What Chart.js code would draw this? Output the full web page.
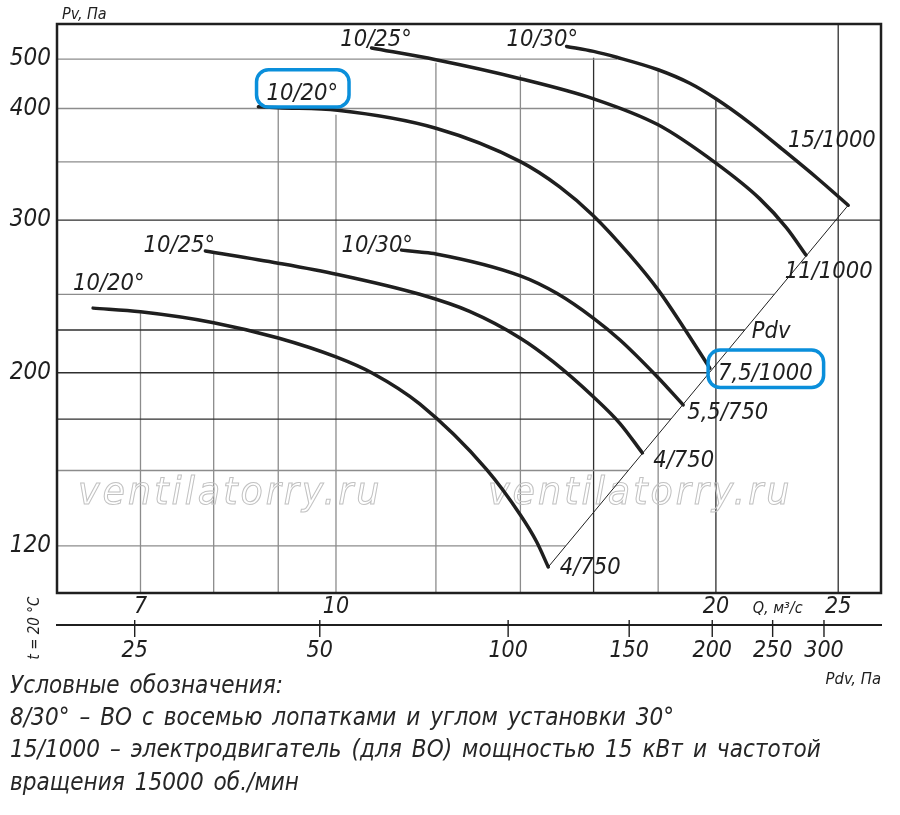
<!DOCTYPE html>
<html lang="ru">
<head>
<meta charset="utf-8">
<title>Аэродинамические характеристики вентилятора</title>
<script src="https://cdn.jsdelivr.net/npm/chart.js@4.4.1/dist/chart.umd.min.js"></script>
<style>
  html, body { margin: 0; padding: 0; background: #fff; }
  #wrap { position: relative; width: 900px; height: 815px; overflow: hidden; }
  #chart { position: absolute; left: 0; top: 0; }
  #legend {
    position: absolute; left: 10px; top: 669px; margin: 0;
    font: italic 24px/32.2px "DejaVu Sans Condensed", "DejaVu Sans", sans-serif;
    color: #262626; letter-spacing: 0.05px; word-spacing: 3px; white-space: nowrap;
  }
</style>
</head>
<body>
<div id="wrap">
  <canvas id="chart" width="900" height="815"></canvas>
  <div id="legend">
    <div>Условные обозначения:</div>
    <div>8/30° – ВО с восемью лопатками и углом установки 30°</div>
    <div>15/1000 – электродвигатель (для ВО) мощностью 15 кВт и частотой</div>
    <div>вращения 15000 об./мин</div>
  </div>
</div>
<script>
/* ---------------------------------------------------------------------------
    DATA  (Q, м³/с  and  Pv, Па)
--------------------------------------------------------------------------- */

// 750 rpm group
const q750_20 = [6.42, 7, 8, 9, 10, 10.69, 11.65, 13.16, 14, 14.42, 14.73];
const p750_20 = [240, 237.4, 229.9, 220.1, 208.9, 199.7, 182.8, 150.5, 131.5, 121.5, 112.7];

const q750_25 = [7.88, 9, 10.03, 11.65, 12.76, 14, 14.86, 16, 16.79, 17.49];
const p750_25 = [278.1, 269.9, 262.5, 250, 237.7, 220, 206.2, 186.5, 172.7, 158.1];

const q750_30 = [11.27, 11.65, 12, 14, 14.96, 16, 16.79, 17.97, 18.84];
const p750_30 = [278.7, 277.4, 276.1, 261.6, 250.6, 232.9, 218.9, 197.7, 182.3];

// 1000 rpm group
const q1000_20 = [8.68, 9, 10.03, 12, 14, 15.04, 16, 17.09, 18, 18.84, 19.78];
const p1000_20 = [403.1, 401.3, 398.2, 380.7, 350.2, 327.6, 303.4, 275.4, 252.7, 227.2, 202.5];

const q1000_25 = [10.67, 12, 14, 16, 18, 20, 21.67, 22.75, 23.57];
const p1000_25 = [525.6, 498.4, 457.6, 417.9, 384, 348.8, 317.4, 294.4, 275.4];

const q1000_30 = [15.23, 16, 16.69, 18, 19.07, 20, 21.27, 22.61, 24.04, 25.46];
const p1000_30 = [529.4, 517.6, 504, 476.4, 448.2, 417.9, 385.9, 360.6, 335.6, 312.1];

// Pdv line through the curve ends
const qPdvLine = [14.73, 25.46];
const pPdvLine = [112.7, 312.1];

// axis ticks
const qTickLabels = [7, 10, 20, 25];
const qGridValues = [7, 8, 9, 10, 12, 14, 16, 18, 20, 25];
const pvTickLabels = [120, 200, 300, 400, 500];
const pvGridValues = [120, 150, 175, 200, 225, 250, 300, 350, 400, 500];
const pdvTickLabels = [25, 50, 100, 150, 200, 250, 300];

/* ---------------------------------------------------------------------------
    AXIS CALIBRATION (the printed Pv and Pdv scales are not evenly logarithmic)
--------------------------------------------------------------------------- */

const pvMarks = [104.3, 120, 150, 175, 200, 225, 250, 300, 350, 400, 500, 586];
const pvMarkFractions = [0, 0.0827, 0.2153, 0.3056, 0.3871, 0.4622, 0.525, 0.6552, 0.7577, 0.8515, 0.9384, 1];

const pdvMarks = [18.7, 25, 50, 100, 150, 200, 250, 300, 367];
const pdvMarkFractions = [0, 0.0943, 0.3189, 0.5475, 0.6944, 0.7952, 0.8685, 0.9308, 1];

const stretchedLog = (values, fractions) => {
  const logs = values.map(Math.log10);
  return {
    min: values[0],
    max: values[values.length - 1],
    toFrac(v) {
      const lv = Math.log10(v);
      let i = 1;
      while (i < logs.length - 1 && lv > logs[i]) i++;
      const t = (lv - logs[i - 1]) / (logs[i] - logs[i - 1]);
      return fractions[i - 1] + t * (fractions[i] - fractions[i - 1]);
    },
    fromFrac(f) {
      let i = 1;
      while (i < fractions.length - 1 && f > fractions[i]) i++;
      const t = (f - fractions[i - 1]) / (fractions[i] - fractions[i - 1]);
      return Math.pow(10, logs[i - 1] + t * (logs[i] - logs[i - 1]));
    }
  };
};

const AXIS_CALIBRATION = {
  y: stretchedLog(pvMarks, pvMarkFractions),
  x2: stretchedLog(pdvMarks, pdvMarkFractions)
};

class StretchedLogScale extends Chart.LinearScale {
  static id = 'stretchedLog';
  static defaults = {};
  determineDataLimits() {
    const cal = AXIS_CALIBRATION[this.id];
    this.min = cal.min;
    this.max = cal.max;
  }
  buildTicks() { return []; }
  getPixelForValue(value) {
    return this.getPixelForDecimal(AXIS_CALIBRATION[this.id].toFrac(value));
  }
  getValueForPixel(pixel) {
    return AXIS_CALIBRATION[this.id].fromFrac(this.getDecimalForPixel(pixel));
  }
}
Chart.register(StretchedLogScale);

/* ---------------------------------------------------------------------------
    STYLE
--------------------------------------------------------------------------- */

const INK = '#1f1f1f';
const GRID_DARK = '#2e2e2e';
const GRID_LIGHT = '#8c8c8c';
const BOX_BLUE = '#0a8fdb';
const FAMILY = '"DejaVu Sans Condensed", "DejaVu Sans", sans-serif';
const tickFont = (size) => ({ family: FAMILY, size, style: 'italic', weight: 'normal' });

// partial grid lines, as printed: vertical lines end at a Pv value, horizontal ones at a Q value
const verticalGrid = qGridValues.map((q, i) => ({
  q,
  topP: [237.4, 277.2, 400, 393.7, 491.7, 465.8, 503, 480, 419, null][i],
  dark: [16, 20, 25].includes(q)
}));
const horizontalGrid = pvGridValues.map((p) => ({
  p,
  toPdv: p < 300,
  endQ: { 500: 16.7, 400: 20.45, 350: 23.21 }[p] || null,
  dark: [300, 225, 200, 175].includes(p)
}));

const curveLabels = [
  { text: '10/25°', q: 10.08, p: 530 },
  { text: '10/30°', q: 13.65, p: 530 },
  { text: '10/20°', q: 8.81, p: 416.1, boxed: true },
  { text: '15/1000', q: 22.81, p: 363.7 },
  { text: '11/1000', q: 22.68, p: 260 },
  { text: 'Pdv', q: 21.35, p: 220 },
  { text: '7,5/1000', q: 20.08, p: 195.8, boxed: true },
  { text: '5,5/750', q: 18.98, p: 175 },
  { text: '4/750', q: 17.84, p: 151.6 },
  { text: '4/750', q: 15.04, p: 110.5 },
  { text: '10/25°', q: 7.04, p: 277.6 },
  { text: '10/30°', q: 10.1, p: 277.6 },
  { text: '10/20°', q: 6.19, p: 252.7 }
];

/* ---------------------------------------------------------------------------
    PLUGINS
--------------------------------------------------------------------------- */

const gridPlugin = {
  id: 'partialGrid',
  beforeDatasetsDraw(chart) {
    const { ctx, chartArea, scales: { x, y } } = chart;
    const pdvMeta = chart.getDatasetMeta(chart.data.datasets.length - 1);
    const [a, b] = pdvMeta.data;
    const pdvXAt = (py) => a.x + (py - a.y) * (b.x - a.x) / (b.y - a.y);

    ctx.save();
    ctx.lineWidth = 1.3;
    verticalGrid.forEach((g) => {
      const px = x.getPixelForValue(g.q);
      const top = g.topP ? y.getPixelForValue(g.topP) : chartArea.top;
      ctx.strokeStyle = g.dark ? GRID_DARK : GRID_LIGHT;
      ctx.beginPath();
      ctx.moveTo(px, top);
      ctx.lineTo(px, chartArea.bottom);
      ctx.stroke();
    });
    horizontalGrid.forEach((g) => {
      const py = y.getPixelForValue(g.p);
      let right = chartArea.right;
      if (g.toPdv) right = pdvXAt(py);
      else if (g.endQ) right = x.getPixelForValue(g.endQ);
      ctx.strokeStyle = g.dark ? GRID_DARK : GRID_LIGHT;
      ctx.beginPath();
      ctx.moveTo(chartArea.left, py);
      ctx.lineTo(right, py);
      ctx.stroke();
    });

    // watermark
    ctx.font = `italic 36.5px "DejaVu Sans", sans-serif`;
    ctx.letterSpacing = '3px';
    ctx.strokeStyle = '#c2c2c2';
    ctx.lineWidth = 1;
    ctx.textBaseline = 'alphabetic';
    ctx.strokeText('ventilatorry.ru', 78, 503.5);
    ctx.strokeText('ventilatorry.ru', 488, 503.5);
    ctx.restore();
  }
};

const annotationPlugin = {
  id: 'annotations',
  afterDatasetsDraw(chart) {
    const { ctx, chartArea, scales: { x, x2, y } } = chart;
    ctx.save();

    // plot frame
    ctx.strokeStyle = INK;
    ctx.lineWidth = 2.5;
    ctx.strokeRect(chartArea.left, chartArea.top, chartArea.right - chartArea.left, chartArea.bottom - chartArea.top);

    // Pdv tick marks cross the axis line
    ctx.lineWidth = 1.4;
    x2.ticks.forEach((t) => {
      const px = x2.getPixelForValue(t.value);
      ctx.beginPath();
      ctx.moveTo(px, x2.top - 5);
      ctx.lineTo(px, x2.top + 12);
      ctx.stroke();
    });

    // curve labels
    ctx.fillStyle = INK;
    ctx.font = `italic 23.5px ${FAMILY}`;
    ctx.textAlign = 'left';
    ctx.textBaseline = 'alphabetic';
    curveLabels.forEach((lab) => {
      const px = x.getPixelForValue(lab.q);
      const py = y.getPixelForValue(lab.p);
      ctx.fillText(lab.text, px, py);
      if (lab.boxed) {
        const w = ctx.measureText(lab.text).width;
        ctx.save();
        ctx.strokeStyle = BOX_BLUE;
        ctx.lineWidth = 3.5;
        ctx.beginPath();
        ctx.roundRect(px - 10, py - 30, w + 21, 37.3, 12);
        ctx.stroke();
        ctx.restore();
      }
    });

    // axis titles
    ctx.font = `italic 16px ${FAMILY}`;
    ctx.fillText('Pv, Па', chartArea.left + 5, chartArea.top - 5);
    ctx.fillText('Q, м³/с', x.getPixelForValue(21.39), 612.5);
    ctx.textAlign = 'right';
    ctx.font = `italic 16.5px ${FAMILY}`;
    ctx.fillText('Pdv, Па', chartArea.right, 684);

    ctx.translate(35, 628);
    ctx.rotate(-Math.PI / 2);
    ctx.textAlign = 'center';
    ctx.textBaseline = 'middle';
    ctx.font = `italic 15px ${FAMILY}`;
    ctx.fillText('t = 20 °C', 0, 0);
    ctx.restore();
  }
};

/* ---------------------------------------------------------------------------
    CHART
--------------------------------------------------------------------------- */

const toPoints = (qs, ps) => qs.map((q, i) => ({ x: q, y: ps[i] }));

const curve = (label, qs, ps) => ({
  label,
  data: toPoints(qs, ps),
  borderColor: INK,
  borderWidth: 3.5,
  borderCapStyle: 'round',
  pointRadius: 0,
  fill: false,
  cubicInterpolationMode: 'monotone'
});

const datasets = [
  curve('10/20° 4/750', q750_20, p750_20),
  curve('10/25° 4/750', q750_25, p750_25),
  curve('10/30° 5,5/750', q750_30, p750_30),
  curve('10/20° 7,5/1000', q1000_20, p1000_20),
  curve('10/25° 11/1000', q1000_25, p1000_25),
  curve('10/30° 15/1000', q1000_30, p1000_30),
  {
    label: 'Pdv',
    data: toPoints(qPdvLine, pPdvLine),
    borderColor: INK,
    borderWidth: 1,
    pointRadius: 0,
    fill: false,
    tension: 0
  }
];

new Chart(document.getElementById('chart').getContext('2d'), {
  type: 'line',
  data: { datasets },
  options: {
    responsive: false,
    animation: false,
    events: [],
    layout: { padding: { top: 24, right: 19, bottom: 150, left: 0 } },
    plugins: { legend: { display: false }, tooltip: { enabled: false } },
    scales: {
      x: {
        type: 'logarithmic',
        position: 'bottom',
        weight: 0,
        min: 6.011,
        max: 27.03,
        grid: { display: false, drawTicks: false },
        border: { display: false },
        afterBuildTicks: (s) => { s.ticks = qTickLabels.map((v) => ({ value: v })); },
        afterFit: (s) => { s.height = 32; },
        ticks: {
          autoSkip: false, maxRotation: 0, padding: 0, color: INK,
          font: tickFont(23), callback: (v) => String(v)
        }
      },
      x2: {
        type: 'stretchedLog',
        axis: 'x',
        position: 'bottom',
        weight: 1,
        grid: { display: false, drawOnChartArea: false, drawTicks: true, tickLength: 12 },
        border: { display: true, color: INK, width: 2 },
        afterBuildTicks: (s) => { s.ticks = pdvTickLabels.map((v) => ({ value: v })); },
        afterFit: (s) => { s.height = 40; },
        ticks: {
          autoSkip: false, maxRotation: 0, padding: 0, color: INK,
          font: tickFont(23), callback: (v) => String(v)
        }
      },
      y: {
        type: 'stretchedLog',
        position: 'left',
        grid: { display: false, drawTicks: false },
        border: { display: false },
        afterBuildTicks: (s) => { s.ticks = pvTickLabels.map((v) => ({ value: v })); },
        afterFit: (s) => { s.width = 57; },
        ticks: {
          autoSkip: false, padding: 6, color: INK,
          font: tickFont(24), callback: (v) => String(v)
        }
      }
    }
  },
  plugins: [gridPlugin, annotationPlugin]
});
</script>
</body>
</html>
